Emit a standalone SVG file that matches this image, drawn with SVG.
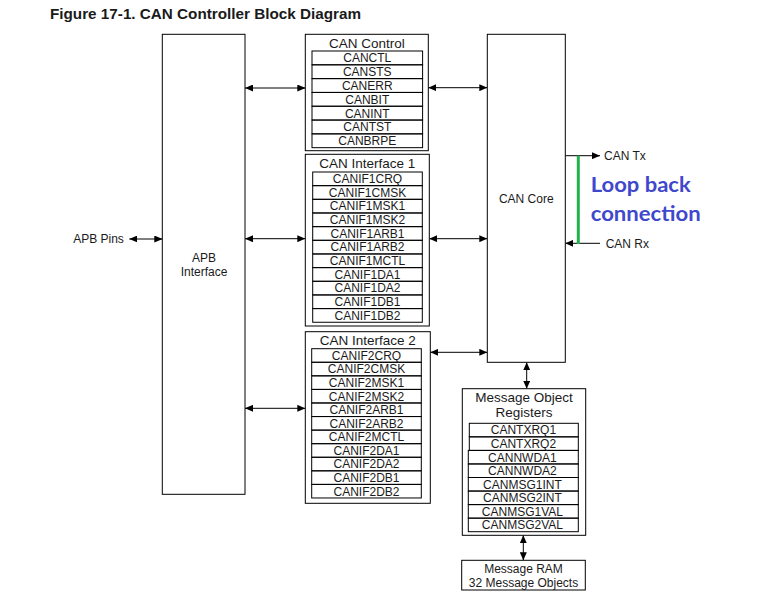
<svg xmlns="http://www.w3.org/2000/svg" width="768" height="604" viewBox="0 0 768 604">
<style>
.bx{fill:#fff;stroke:#000;stroke-width:1}
.rw{fill:none;stroke:#000;stroke-width:1}
.t{font-family:"Liberation Sans",Arial,sans-serif;font-size:12px;fill:#1a1a1a;text-anchor:middle}
.h{font-size:13.5px}
.l{text-anchor:start}
.c{fill:none;stroke:#000;stroke-width:1;marker-end:url(#ah)}
.cb{fill:none;stroke:#000;stroke-width:1;marker-start:url(#ah);marker-end:url(#ah)}
.lb{font-family:Lato,"Open Sans",sans-serif;font-weight:bold;font-size:21px;fill:#3f48cc}
</style>
<defs>
<marker id="ah" markerUnits="userSpaceOnUse" markerWidth="8" markerHeight="7" refX="8" refY="3.5" orient="auto-start-reverse">
<path d="M0,0 L8,3.5 L0,7 z" fill="#000"/>
</marker>
</defs>
<rect width="768" height="604" fill="#fff"/>
<text x="50" y="18.5" textLength="311" lengthAdjust="spacingAndGlyphs" style="font-family:'Liberation Sans',Arial,sans-serif;font-weight:bold;font-size:14.5px;fill:#1a1a1a">Figure 17-1. CAN Controller Block Diagram</text>

<g id="connectors">
<line class="cb" x1="129.3" y1="239" x2="162.3" y2="239"/>
<line class="cb" x1="245" y1="88" x2="305.3" y2="88"/>
<line class="cb" x1="245" y1="238.7" x2="305.3" y2="238.7"/>
<line class="cb" x1="245" y1="408.3" x2="305.3" y2="408.3"/>
<line class="cb" x1="428.3" y1="87.7" x2="487.3" y2="87.7"/>
<line class="cb" x1="429.3" y1="238.7" x2="487.3" y2="238.7"/>
<line class="cb" x1="430.3" y1="352.3" x2="487.3" y2="352.3"/>
<line class="cb" x1="526.7" y1="362.3" x2="526.7" y2="388.7"/>
<line class="cb" x1="523.3" y1="535.3" x2="523.3" y2="560.3"/>
<line class="c" x1="565.3" y1="155.7" x2="600" y2="155.7"/>
<line class="c" x1="600" y1="243.3" x2="565.3" y2="243.3"/>
<line x1="578.3" y1="155.7" x2="578.3" y2="244" stroke="#22b14c" stroke-width="3"/>
</g>

<g id="apb-pins">
<text class="t" x="98.5" y="243.3">APB Pins</text>
</g>

<g id="apb">
<rect class="bx" x="162.3" y="34.3" width="82.7" height="460"/>
<text class="t" x="204" y="261.5">APB</text>
<text class="t" x="204" y="276">Interface</text>
</g>

<g id="can-control">
<rect class="bx" x="305.3" y="34.3" width="123" height="116.4"/>
<text class="t h" x="366.8" y="48.3">CAN Control</text>
<rect class="rw" x="312" y="51" width="110.6" height="13.81"/>
<rect class="rw" x="312" y="64.81" width="110.6" height="13.81"/>
<rect class="rw" x="312" y="78.62" width="110.6" height="13.81"/>
<rect class="rw" x="312" y="92.43" width="110.6" height="13.81"/>
<rect class="rw" x="312" y="106.24" width="110.6" height="13.81"/>
<rect class="rw" x="312" y="120.05" width="110.6" height="13.81"/>
<rect class="rw" x="312" y="133.86" width="110.6" height="13.81"/>
<text class="t" x="367.3" y="62.3">CANCTL</text>
<text class="t" x="367.3" y="76.1">CANSTS</text>
<text class="t" x="367.3" y="89.9">CANERR</text>
<text class="t" x="367.3" y="103.7">CANBIT</text>
<text class="t" x="367.3" y="117.5">CANINT</text>
<text class="t" x="367.3" y="131.3">CANTST</text>
<text class="t" x="367.3" y="145.1">CANBRPE</text>
</g>

<g id="can-if1">
<rect class="bx" x="305.3" y="154.3" width="124" height="171.7"/>
<text class="t h" x="367.3" y="168.3">CAN Interface 1</text>
<rect class="rw" x="312.7" y="172" width="109.6" height="13.66"/>
<rect class="rw" x="312.7" y="185.66" width="109.6" height="13.66"/>
<rect class="rw" x="312.7" y="199.32" width="109.6" height="13.66"/>
<rect class="rw" x="312.7" y="212.98" width="109.6" height="13.66"/>
<rect class="rw" x="312.7" y="226.64" width="109.6" height="13.66"/>
<rect class="rw" x="312.7" y="240.3" width="109.6" height="13.66"/>
<rect class="rw" x="312.7" y="253.96" width="109.6" height="13.66"/>
<rect class="rw" x="312.7" y="267.62" width="109.6" height="13.66"/>
<rect class="rw" x="312.7" y="281.28" width="109.6" height="13.66"/>
<rect class="rw" x="312.7" y="294.94" width="109.6" height="13.66"/>
<rect class="rw" x="312.7" y="308.6" width="109.6" height="13.66"/>
<text class="t" x="367.5" y="183.1">CANIF1CRQ</text>
<text class="t" x="367.5" y="196.8">CANIF1CMSK</text>
<text class="t" x="367.5" y="210.4">CANIF1MSK1</text>
<text class="t" x="367.5" y="224.1">CANIF1MSK2</text>
<text class="t" x="367.5" y="237.8">CANIF1ARB1</text>
<text class="t" x="367.5" y="251.4">CANIF1ARB2</text>
<text class="t" x="367.5" y="265.1">CANIF1MCTL</text>
<text class="t" x="367.5" y="278.8">CANIF1DA1</text>
<text class="t" x="367.5" y="292.4">CANIF1DA2</text>
<text class="t" x="367.5" y="306.1">CANIF1DB1</text>
<text class="t" x="367.5" y="319.8">CANIF1DB2</text>
</g>

<g id="can-if2">
<rect class="bx" x="305.3" y="331.7" width="125" height="171.6"/>
<text class="t h" x="367.8" y="345.3">CAN Interface 2</text>
<rect class="rw" x="311.7" y="348.7" width="109.6" height="13.57"/>
<rect class="rw" x="311.7" y="362.27" width="109.6" height="13.57"/>
<rect class="rw" x="311.7" y="375.84" width="109.6" height="13.57"/>
<rect class="rw" x="311.7" y="389.41" width="109.6" height="13.57"/>
<rect class="rw" x="311.7" y="402.98" width="109.6" height="13.57"/>
<rect class="rw" x="311.7" y="416.55" width="109.6" height="13.57"/>
<rect class="rw" x="311.7" y="430.12" width="109.6" height="13.57"/>
<rect class="rw" x="311.7" y="443.69" width="109.6" height="13.57"/>
<rect class="rw" x="311.7" y="457.26" width="109.6" height="13.57"/>
<rect class="rw" x="311.7" y="470.83" width="109.6" height="13.57"/>
<rect class="rw" x="311.7" y="484.4" width="109.6" height="13.57"/>
<text class="t" x="366.5" y="359.8">CANIF2CRQ</text>
<text class="t" x="366.5" y="373.4">CANIF2CMSK</text>
<text class="t" x="366.5" y="386.9">CANIF2MSK1</text>
<text class="t" x="366.5" y="400.5">CANIF2MSK2</text>
<text class="t" x="366.5" y="414.1">CANIF2ARB1</text>
<text class="t" x="366.5" y="427.6">CANIF2ARB2</text>
<text class="t" x="366.5" y="441.2">CANIF2MCTL</text>
<text class="t" x="366.5" y="454.8">CANIF2DA1</text>
<text class="t" x="366.5" y="468.3">CANIF2DA2</text>
<text class="t" x="366.5" y="481.9">CANIF2DB1</text>
<text class="t" x="366.5" y="495.5">CANIF2DB2</text>
</g>

<g id="can-core">
<rect class="bx" x="487.3" y="34.3" width="78" height="328"/>
<text class="t" x="526.3" y="203.3">CAN Core</text>
</g>

<g id="can-tx">
<text class="t l" x="604" y="160">CAN Tx</text>
</g>
<g id="can-rx">
<text class="t l" x="605.7" y="247.5">CAN Rx</text>
</g>
<g id="loopback-label">
<text class="lb" x="590.7" y="192.3" textLength="100" lengthAdjust="spacingAndGlyphs">Loop back</text>
<text class="lb" x="590.7" y="220.7" textLength="110" lengthAdjust="spacingAndGlyphs">connection</text>
</g>

<g id="mor">
<rect class="bx" x="462.3" y="388.7" width="123.4" height="146.6"/>
<text class="t h" x="524" y="402">Message Object</text>
<text class="t h" x="524" y="417.3">Registers</text>
<rect class="rw" x="469.3" y="423.3" width="109" height="13.55"/>
<rect class="rw" x="469.3" y="436.85" width="109" height="13.55"/>
<rect class="rw" x="468.3" y="450.4" width="110" height="13.55"/>
<rect class="rw" x="468.3" y="463.95" width="110" height="13.55"/>
<rect class="rw" x="468.3" y="477.5" width="110" height="13.55"/>
<rect class="rw" x="468.3" y="491.05" width="110" height="13.55"/>
<rect class="rw" x="468.3" y="504.6" width="110" height="13.55"/>
<rect class="rw" x="468.3" y="518.15" width="110" height="13.55"/>
<text class="t" x="523.4" y="434.4">CANTXRQ1</text>
<text class="t" x="523.4" y="447.9">CANTXRQ2</text>
<text class="t" x="522.4" y="461.5">CANNWDA1</text>
<text class="t" x="522.4" y="475">CANNWDA2</text>
<text class="t" x="522.4" y="488.6">CANMSG1INT</text>
<text class="t" x="522.4" y="502.1">CANMSG2INT</text>
<text class="t" x="522.4" y="515.7">CANMSG1VAL</text>
<text class="t" x="522.4" y="529.2">CANMSG2VAL</text>
</g>

<g id="message-ram">
<rect class="bx" x="461.7" y="560.3" width="123.6" height="29.7"/>
<text class="t" x="523.5" y="572.7">Message RAM</text>
<text class="t" x="523.5" y="586.7">32 Message Objects</text>
</g>
</svg>
